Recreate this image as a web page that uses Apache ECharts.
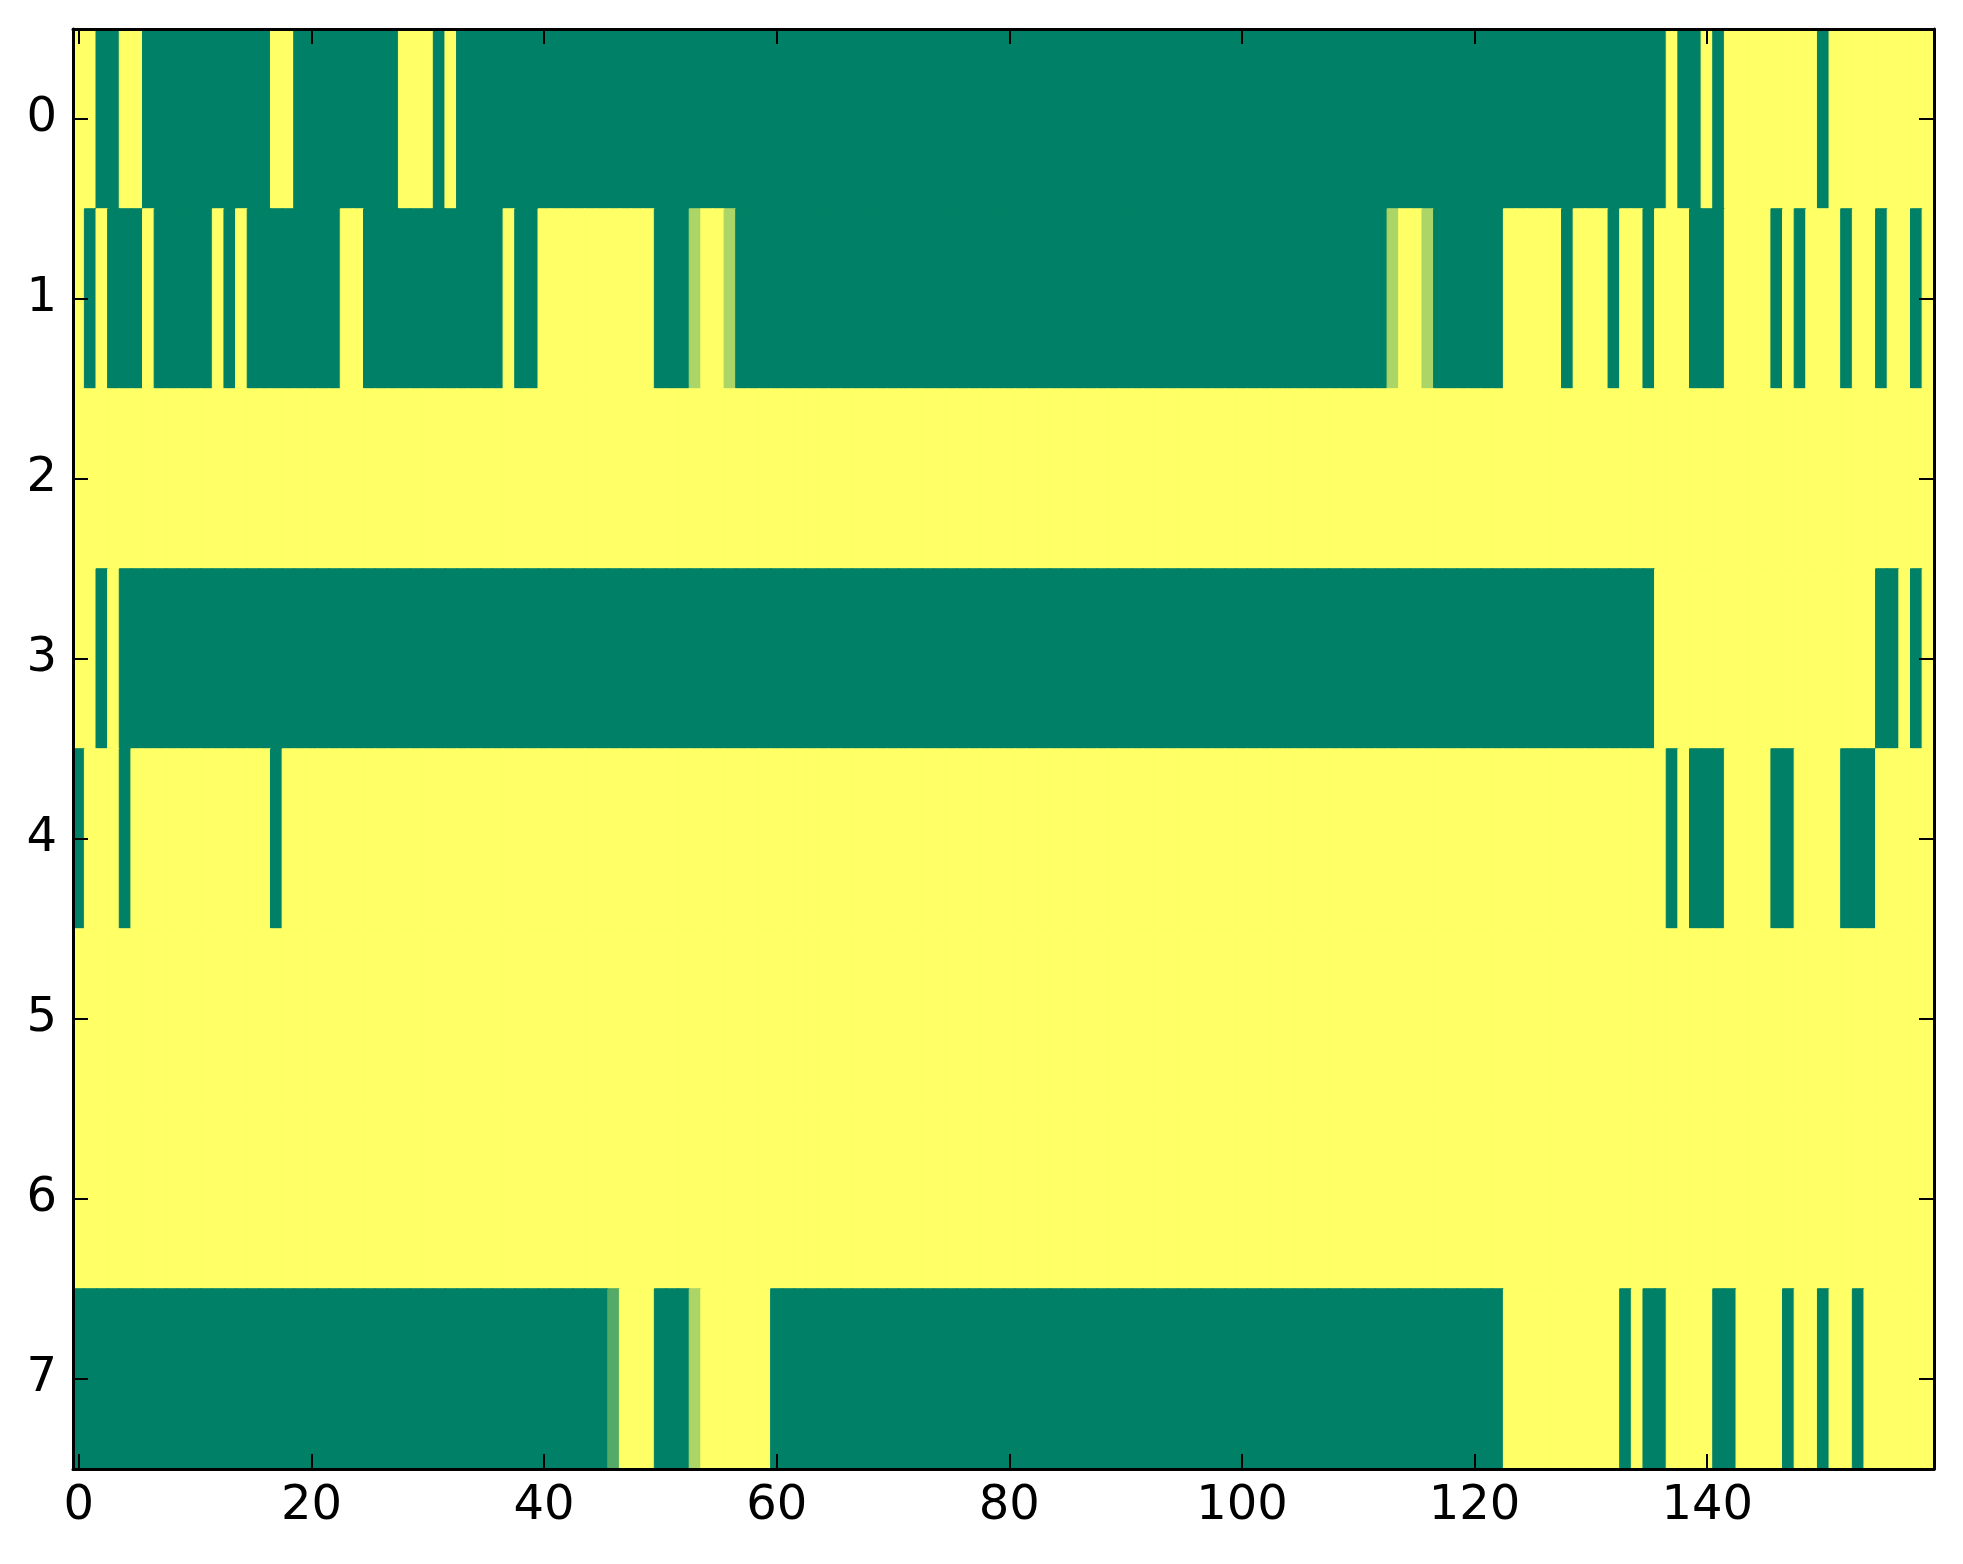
<!DOCTYPE html>
<html>
<head>
<meta charset="utf-8">
<script src="https://cdn.jsdelivr.net/npm/echarts@6/dist/echarts.min.js"></script>
<style>
html,body{margin:0;padding:0;background:#fff;}
#chart{width:1963px;height:1564px;}
</style>
</head>
<body>
<div id="chart"></div>
<script>
// column categories 0..159 and row categories 0..7
var rowLabels = ['0','1','2','3','4','5','6','7'];
var xTickLabels = ['0','20','40','60','80','100','120','140'];

var row0 = [
1,1,0,0,1,1,0,0,0,0,0,0,0,0,0,0,0,1,1,0,
0,0,0,0,0,0,0,0,1,1,1,0,1,0,0,0,0,0,0,0,
0,0,0,0,0,0,0,0,0,0,0,0,0,0,0,0,0,0,0,0,
0,0,0,0,0,0,0,0,0,0,0,0,0,0,0,0,0,0,0,0,
0,0,0,0,0,0,0,0,0,0,0,0,0,0,0,0,0,0,0,0,
0,0,0,0,0,0,0,0,0,0,0,0,0,0,0,0,0,0,0,0,
0,0,0,0,0,0,0,0,0,0,0,0,0,0,0,0,0,1,0,0,
1,0,1,1,1,1,1,1,1,1,0,1,1,1,1,1,1,1,1,1
];
var row1 = [
1,0,1,0,0,0,1,0,0,0,0,0,1,0,1,0,0,0,0,0,
0,0,0,1,1,0,0,0,0,0,0,0,0,0,0,0,0,1,0,0,
1,1,1,1,1,1,1,1,1,1,0,0,0,0.67,1,1,0.67,0,0,0,
0,0,0,0,0,0,0,0,0,0,0,0,0,0,0,0,0,0,0,0,
0,0,0,0,0,0,0,0,0,0,0,0,0,0,0,0,0,0,0,0,
0,0,0,0,0,0,0,0,0,0,0,0,0,0.67,1,1,0.67,0,0,0,
0,0,0,1,1,1,1,1,0,1,1,1,0,1,1,0,1,1,1,0,
0,0,1,1,1,1,0,1,0,1,1,1,0,1,1,0,1,1,0,1
];
var row2 = [
1,1,1,1,1,1,1,1,1,1,1,1,1,1,1,1,1,1,1,1,
1,1,1,1,1,1,1,1,1,1,1,1,1,1,1,1,1,1,1,1,
1,1,1,1,1,1,1,1,1,1,1,1,1,1,1,1,1,1,1,1,
1,1,1,1,1,1,1,1,1,1,1,1,1,1,1,1,1,1,1,1,
1,1,1,1,1,1,1,1,1,1,1,1,1,1,1,1,1,1,1,1,
1,1,1,1,1,1,1,1,1,1,1,1,1,1,1,1,1,1,1,1,
1,1,1,1,1,1,1,1,1,1,1,1,1,1,1,1,1,1,1,1,
1,1,1,1,1,1,1,1,1,1,1,1,1,1,1,1,1,1,1,1
];
var row3 = [
1,1,0,1,0,0,0,0,0,0,0,0,0,0,0,0,0,0,0,0,
0,0,0,0,0,0,0,0,0,0,0,0,0,0,0,0,0,0,0,0,
0,0,0,0,0,0,0,0,0,0,0,0,0,0,0,0,0,0,0,0,
0,0,0,0,0,0,0,0,0,0,0,0,0,0,0,0,0,0,0,0,
0,0,0,0,0,0,0,0,0,0,0,0,0,0,0,0,0,0,0,0,
0,0,0,0,0,0,0,0,0,0,0,0,0,0,0,0,0,0,0,0,
0,0,0,0,0,0,0,0,0,0,0,0,0,0,0,0,1,1,1,1,
1,1,1,1,1,1,1,1,1,1,1,1,1,1,1,0,0,1,0,1
];
var row4 = [
0,1,1,1,0,1,1,1,1,1,1,1,1,1,1,1,1,0,1,1,
1,1,1,1,1,1,1,1,1,1,1,1,1,1,1,1,1,1,1,1,
1,1,1,1,1,1,1,1,1,1,1,1,1,1,1,1,1,1,1,1,
1,1,1,1,1,1,1,1,1,1,1,1,1,1,1,1,1,1,1,1,
1,1,1,1,1,1,1,1,1,1,1,1,1,1,1,1,1,1,1,1,
1,1,1,1,1,1,1,1,1,1,1,1,1,1,1,1,1,1,1,1,
1,1,1,1,1,1,1,1,1,1,1,1,1,1,1,1,1,0,1,0,
0,0,1,1,1,1,0,0,1,1,1,1,0,0,0,1,1,1,1,1
];
var row5 = [
1,1,1,1,1,1,1,1,1,1,1,1,1,1,1,1,1,1,1,1,
1,1,1,1,1,1,1,1,1,1,1,1,1,1,1,1,1,1,1,1,
1,1,1,1,1,1,1,1,1,1,1,1,1,1,1,1,1,1,1,1,
1,1,1,1,1,1,1,1,1,1,1,1,1,1,1,1,1,1,1,1,
1,1,1,1,1,1,1,1,1,1,1,1,1,1,1,1,1,1,1,1,
1,1,1,1,1,1,1,1,1,1,1,1,1,1,1,1,1,1,1,1,
1,1,1,1,1,1,1,1,1,1,1,1,1,1,1,1,1,1,1,1,
1,1,1,1,1,1,1,1,1,1,1,1,1,1,1,1,1,1,1,1
];
var row6 = [
1,1,1,1,1,1,1,1,1,1,1,1,1,1,1,1,1,1,1,1,
1,1,1,1,1,1,1,1,1,1,1,1,1,1,1,1,1,1,1,1,
1,1,1,1,1,1,1,1,1,1,1,1,1,1,1,1,1,1,1,1,
1,1,1,1,1,1,1,1,1,1,1,1,1,1,1,1,1,1,1,1,
1,1,1,1,1,1,1,1,1,1,1,1,1,1,1,1,1,1,1,1,
1,1,1,1,1,1,1,1,1,1,1,1,1,1,1,1,1,1,1,1,
1,1,1,1,1,1,1,1,1,1,1,1,1,1,1,1,1,1,1,1,
1,1,1,1,1,1,1,1,1,1,1,1,1,1,1,1,1,1,1,1
];
var row7 = [
0,0,0,0,0,0,0,0,0,0,0,0,0,0,0,0,0,0,0,0,
0,0,0,0,0,0,0,0,0,0,0,0,0,0,0,0,0,0,0,0,
0,0,0,0,0,0,0.33,1,1,1,0,0,0,0.67,1,1,1,1,1,1,
0,0,0,0,0,0,0,0,0,0,0,0,0,0,0,0,0,0,0,0,
0,0,0,0,0,0,0,0,0,0,0,0,0,0,0,0,0,0,0,0,
0,0,0,0,0,0,0,0,0,0,0,0,0,0,0,0,0,0,0,0,
0,0,0,1,1,1,1,1,1,1,1,1,1,0,1,0,0,1,1,1,
1,0,0,1,1,1,1,0,1,1,0,1,1,0,1,1,1,1,1,1
];

var rows = [row0,row1,row2,row3,row4,row5,row6,row7];
var colCats = [];
for (var c = 0; c < row0.length; c++) colCats.push(String(c));

// summer colormap endpoints
var LOW = [0,128,102], HIGH = [255,255,102];
function cmap(v){
  var r = Math.round(LOW[0] + (HIGH[0]-LOW[0])*v);
  var g = Math.round(LOW[1] + (HIGH[1]-LOW[1])*v);
  var b = Math.round(LOW[2] + (HIGH[2]-LOW[2])*v);
  return 'rgb(' + r + ',' + g + ',' + b + ')';
}
var cells = [];
rows.forEach(function(r, ri){
  r.forEach(function(v, ci){
    cells.push({value:[ci, ri, v], itemStyle:{borderColor:cmap(v), borderWidth:1}});
  });
});

function isXTick(i, v){ return xTickLabels.indexOf(String(v)) >= 0; }

var FONT = 'DejaVu Sans';
var axisLineStyle = {color:'#000', width:3};
var tickStyle = {color:'#000', width:2};

var chart = echarts.init(document.getElementById('chart'), null, {renderer:'canvas'});
chart.setOption({
  animation:false,
  backgroundColor:'#ffffff',
  grid:{left:73, right:29, top:29, bottom:95, containLabel:false},
  xAxis:[
    {type:'category', data:colCats, position:'bottom', z:10,
     axisLine:{show:true, onZero:false, lineStyle:axisLineStyle},
     axisTick:{show:true, inside:true, length:15, alignWithLabel:true, interval:isXTick, lineStyle:tickStyle},
     axisLabel:{show:true, interval:isXTick, fontSize:48, color:'#000', fontFamily:FONT, margin:14},
     splitLine:{show:false}},
    {type:'category', data:colCats, position:'top', z:10,
     axisLine:{show:true, onZero:false, lineStyle:axisLineStyle},
     axisTick:{show:true, inside:true, length:15, alignWithLabel:true, interval:isXTick, lineStyle:tickStyle},
     axisLabel:{show:false}, splitLine:{show:false}}
  ],
  yAxis:[
    {type:'category', data:rowLabels, inverse:true, position:'left', z:10,
     axisLine:{show:true, onZero:false, lineStyle:axisLineStyle},
     axisTick:{show:true, inside:true, length:15, alignWithLabel:true, lineStyle:tickStyle},
     axisLabel:{show:true, fontSize:48, color:'#000', fontFamily:FONT, margin:16},
     splitLine:{show:false}},
    {type:'category', data:rowLabels, inverse:true, position:'right', z:10,
     axisLine:{show:true, onZero:false, lineStyle:axisLineStyle},
     axisTick:{show:true, inside:true, length:15, alignWithLabel:true, lineStyle:tickStyle},
     axisLabel:{show:false}, splitLine:{show:false}}
  ],
  visualMap:{type:'continuous', show:false, min:0, max:1, dimension:2,
    inRange:{color:['#008066','#ffff66']}},
  series:[{type:'heatmap', xAxisIndex:0, yAxisIndex:0, data:cells,
    emphasis:{disabled:true}, progressive:0}]
});
</script>
</body>
</html>
